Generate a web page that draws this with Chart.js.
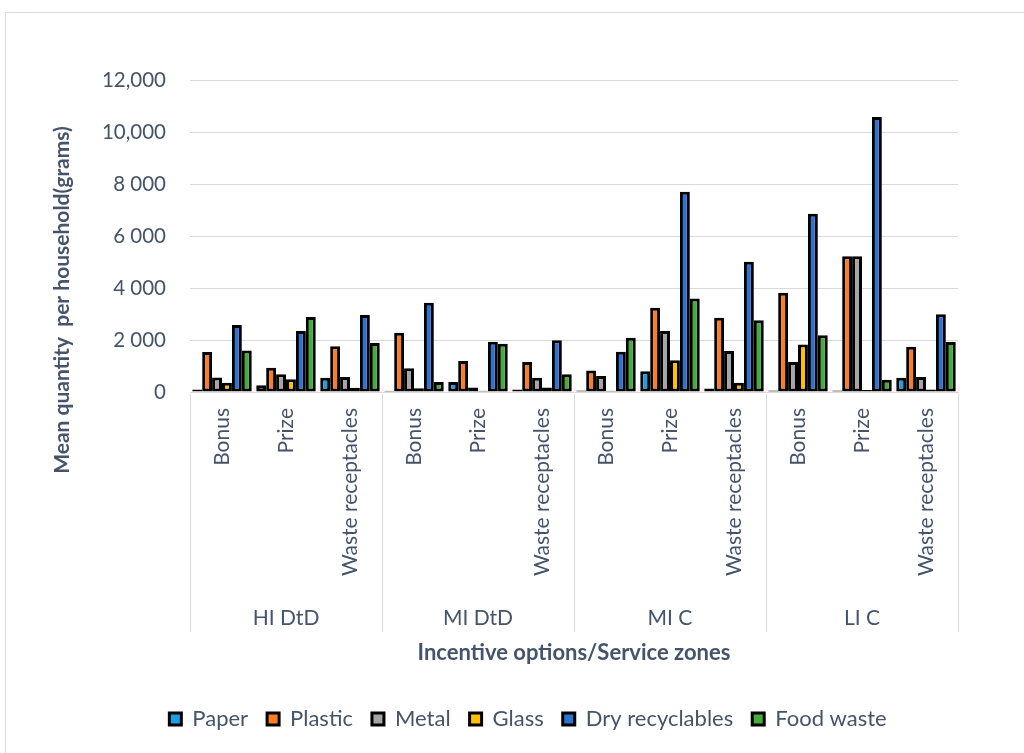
<!DOCTYPE html>
<html>
<head>
<meta charset="utf-8">
<script src="https://cdn.jsdelivr.net/npm/chart.js@4"></script>
<style>
  body { margin: 0; background: #fff; }
  .frame { position: absolute; left: 5px; top: 12px; width: 1030px; height: 760px; border: 1px solid #d9dde3; }
  .wrap { position: absolute; left: 0; top: 0; width: 1024px; height: 753px; }
</style>
</head>
<body>
<div class="frame"></div>
<div class="wrap"><canvas id="myChart"></canvas></div>
<script>
// categories
const options = ['Bonus', 'Prize', 'Waste receptacles', 'Bonus', 'Prize', 'Waste receptacles',
                 'Bonus', 'Prize', 'Waste receptacles', 'Bonus', 'Prize', 'Waste receptacles'];
const zones = ['HI DtD', 'MI DtD', 'MI C', 'LI C'];
const yTickLabels = ['0', '2 000', '4 000', '6 000', '8 000', '10,000', '12,000'];

// series values (grams)
const paper   = [100, 260, 550, 50, 380, 100, 60, 800, 130, 60, 60, 550];
const plastic = [1540, 930, 1760, 2280, 1190, 1150, 830, 3240, 2860, 3820, 5220, 1740];
const metal   = [560, 680, 580, 910, 170, 550, 615, 2350, 1580, 1150, 5220, 580];
const glass   = [360, 490, 160, 140, 50, 170, 50, 1220, 360, 1830, 80, 100];
const dry     = [2580, 2350, 2960, 3430, 1930, 1990, 1550, 7700, 5010, 6860, 10580, 2990];
const food    = [1600, 2880, 1880, 380, 1860, 680, 2090, 3600, 2760, 2180, 470, 1920];

const txt = '#44546a';
const font = 'Lato, "Open Sans", sans-serif';

function ds(label, data, color) {
  return {
    label: label,
    data: data,
    backgroundColor: color,
    borderColor: '#000',
    borderWidth: 3,
    borderSkipped: false,
    categoryPercentage: 0.93,
    barPercentage: 1.0
  };
}

// group separators + y title
const extras = {
  id: 'extras',
  afterDraw(chart) {
    const ctx = chart.ctx;
    const x = chart.scales.x;
    const area = chart.chartArea;
    ctx.save();
    ctx.strokeStyle = '#d9d9d9';
    ctx.lineWidth = 1;
    for (let g = 0; g <= zones.length; g++) {
      let px;
      if (g === 0) px = x.left;
      else if (g === zones.length) px = x.right;
      else px = (x.getPixelForValue(g * 3) + x.getPixelForValue(g * 3 - 1)) / 2;
      px = Math.round(px) + 0.5;
      ctx.beginPath();
      ctx.moveTo(px, area.bottom + 2);
      ctx.lineTo(px, 632);
      ctx.stroke();
    }
    ctx.translate(62, 300);
    ctx.rotate(-Math.PI / 2);
    ctx.fillStyle = txt;
    ctx.font = 'bold 21px ' + font;
    ctx.textAlign = 'center';
    ctx.textBaseline = 'middle';
    ctx.fillText('Mean quantity  per household(grams)', 0, 0);
    ctx.restore();
  }
};

const config = {
  type: 'bar',
  data: {
    labels: options,
    datasets: [
      ds('Paper', paper, '#1ba1e2'),
      ds('Plastic', plastic, '#fb7d23'),
      ds('Metal', metal, '#a5a5a5'),
      ds('Glass', glass, '#ffc000'),
      ds('Dry recyclables', dry, '#2f73d0'),
      ds('Food waste', food, '#46ad3b')
    ]
  },
  plugins: [extras],
  options: {
    responsive: true,
    maintainAspectRatio: false,
    animation: false,
    layout: { padding: { left: 98, right: 66, top: 80, bottom: 13 } },
    plugins: {
      tooltip: { enabled: false },
      legend: {
        position: 'bottom',
        labels: {
          color: txt,
          font: { family: font, size: 22 },
          boxWidth: 12,
          boxHeight: 12,
          padding: 19
        }
      }
    },
    scales: {
      y: {
        min: 0,
        max: 12000,
        ticks: {
          stepSize: 2000,
          color: txt,
          font: { family: font, size: 20.5 },
          padding: 24,
          callback: (v) => yTickLabels[v / 2000]
        },
        grid: { color: '#d9d9d9', drawTicks: false },
        border: { display: false },
        afterFit: (s) => { s.width = 92; }
      },
      x: {
        ticks: {
          autoSkip: false,
          minRotation: 90,
          maxRotation: 90,
          color: txt,
          font: { family: font, size: 21 },
          padding: 8
        },
        grid: { display: false },
        border: { color: '#d9d9d9' },
        afterFit: (s) => { s.height = 200; }
      },
      x2: {
        type: 'category',
        labels: zones,
        offset: true,
        position: 'bottom',
        grid: { display: false },
        border: { display: false },
        ticks: { color: txt, font: { family: font, size: 21 }, padding: 6 },
        title: {
          display: true,
          text: 'Incentive options/Service zones',
          color: txt,
          font: { family: font, size: 22, weight: 'bold' },
          padding: { top: 6, bottom: 23 }
        },
        afterFit: (s) => { s.height = 97; }
      }
    }
  }
};

const myChart = new Chart(document.getElementById('myChart'), config);
</script>
</body>
</html>
